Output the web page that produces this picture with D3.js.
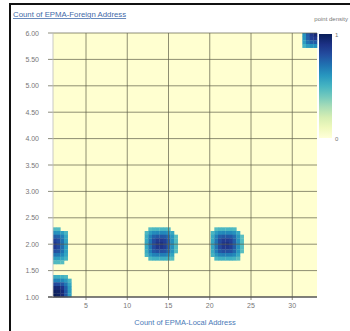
<!DOCTYPE html>
<html><head><meta charset="utf-8">
<script src="https://cdn.jsdelivr.net/npm/d3@7/dist/d3.min.js"></script>
<style>
html,body{margin:0;padding:0;background:#fff;overflow:hidden;}
svg{display:block;font-family:"Liberation Sans",Arial,sans-serif;}
</style></head><body>
<script>
// Data
const pointX = [1, 1, 14, 22, 33];
const pointY = [1, 2, 2, 2, 6];
const pointWeight = [1.0, 0.8, 0.82, 0.82, 0.85];
const xTicks = [5, 10, 15, 20, 25, 30];
const yTicks = [1.0, 1.5, 2.0, 2.5, 3.0, 3.5, 4.0, 4.5, 5.0, 5.5, 6.0];
const legendTicks = [0, 1];
const xTitle = "Count of EPMA-Local Address";
const yTitle = "Count of EPMA-Foreign Address";
const legendTitle = "point density";

const W = 350, H = 331;
const svg = d3.select("body").append("svg").attr("width", W).attr("height", H);

// frame (top + left border)
svg.append("rect").attr("x",0).attr("y",0).attr("width",W).attr("height",H).attr("fill","#fff");
svg.append("line").attr("x1",10).attr("x2",W).attr("y1",4).attr("y2",4).attr("stroke","#111").attr("stroke-width",2);
svg.append("line").attr("x1",10).attr("x2",10).attr("y1",3).attr("y2",H).attr("stroke","#111").attr("stroke-width",2);

const x = d3.scaleLinear().domain([1,33]).range([53,317]);
const y = d3.scaleLinear().domain([1,6]).range([297,33]);

const g = svg.append("g");
g.append("rect").attr("x",x(1)).attr("y",y(6)).attr("width",x(33)-x(1)).attr("height",y(1)-y(6)).attr("fill","#ffffd0");

// density grid
const N = 72;
const cw = (x(33)-x(1))/N, ch = (y(1)-y(6))/N;
const sig = 16, thr = 0.5;
const cells = [];
for (let i=0;i<N;i++) for (let j=0;j<N;j++){
  const px = x(1)+ (i+0.5)*cw, py = y(6)+(j+0.5)*ch;
  let dsum = 0;
  for (let k=0;k<pointX.length;k++){
    const dx = Math.abs(px - x(pointX[k])), dy = Math.abs(py - y(pointY[k]));
    const d = Math.pow(Math.pow(dx,4)+Math.pow(dy,4),0.25);
    dsum += pointWeight[k]*Math.exp(-d*d/(2*sig*sig));
  }
  if (dsum > thr) cells.push({i,j,v:dsum});
}
const col = d3.scaleLinear().domain([thr,0.84,1]).range([0.45,0.93,1]).clamp(true);
g.selectAll("rect.cell").data(cells).join("rect").attr("class","cell")
  .attr("x",d=>x(1)+d.i*cw).attr("y",d=>y(6)+d.j*ch)
  .attr("width",cw+0.3).attr("height",ch+0.3)
  .attr("fill",d=>d3.interpolateYlGnBu(col(d.v)));

// grid lines
g.selectAll("line.vg").data(xTicks).join("line").attr("class","vg")
  .attr("x1",d=>x(d)).attr("x2",d=>x(d)).attr("y1",y(6)).attr("y2",y(1)+3)
  .attr("stroke","#5e5e48").attr("stroke-opacity",0.7).attr("stroke-width",1);
g.selectAll("line.hg").data(yTicks.slice(1)).join("line").attr("class","hg")
  .attr("x1",x(1)-5).attr("x2",x(33)).attr("y1",d=>y(d)).attr("y2",d=>y(d))
  .attr("stroke","#5e5e48").attr("stroke-opacity",0.7).attr("stroke-width",1);
// axis lines
g.append("line").attr("x1",x(1)-5).attr("x2",x(33)).attr("y1",y(1)).attr("y2",y(1)).attr("stroke","#555").attr("stroke-width",1.5);
g.append("line").attr("x1",x(1)).attr("x2",x(1)).attr("y1",y(6)).attr("y2",y(1)).attr("stroke","#bbb").attr("stroke-width",0.8);

// tick labels
g.selectAll("text.xl").data(xTicks).join("text").attr("class","xl")
  .attr("x",d=>x(d)).attr("y",308).attr("text-anchor","middle")
  .attr("font-size",7).attr("fill","#777").text(d=>d);
g.selectAll("text.yl").data(yTicks).join("text").attr("class","yl")
  .attr("x",39).attr("y",d=>y(d)+2.5).attr("text-anchor","end")
  .attr("font-size",7).attr("fill","#777").text(d=>d.toFixed(2));

// titles
svg.append("text").attr("x",185).attr("y",325).attr("text-anchor","middle")
  .attr("font-size",7.5).attr("fill","#4a7ab8").text(xTitle);
svg.append("text").attr("x",13).attr("y",17)
  .attr("font-size",7.8).attr("fill","#3f6aa8").attr("text-decoration","underline").text(yTitle);

// legend
const defs = svg.append("defs");
const lg = defs.append("linearGradient").attr("id","lg").attr("x1",0).attr("x2",0).attr("y1",1).attr("y2",0);
d3.range(0,1.01,0.1).forEach(t=>lg.append("stop").attr("offset",t).attr("stop-color",d3.interpolateYlGnBu(t)));
const ly = d3.scaleLinear().domain([0,1]).range([138,34]);
svg.append("rect").attr("x",319).attr("y",ly(1)).attr("width",13).attr("height",ly(0)-ly(1)).attr("fill","url(#lg)");
svg.selectAll("text.lt").data(legendTicks).join("text").attr("class","lt")
  .attr("x",335).attr("y",d=>ly(d)+3).attr("font-size",6).attr("fill","#777").text(d=>d);
svg.append("text").attr("x",348).attr("y",21).attr("text-anchor","end").attr("font-size",6).attr("fill","#777").text(legendTitle);
</script>
</body></html>
